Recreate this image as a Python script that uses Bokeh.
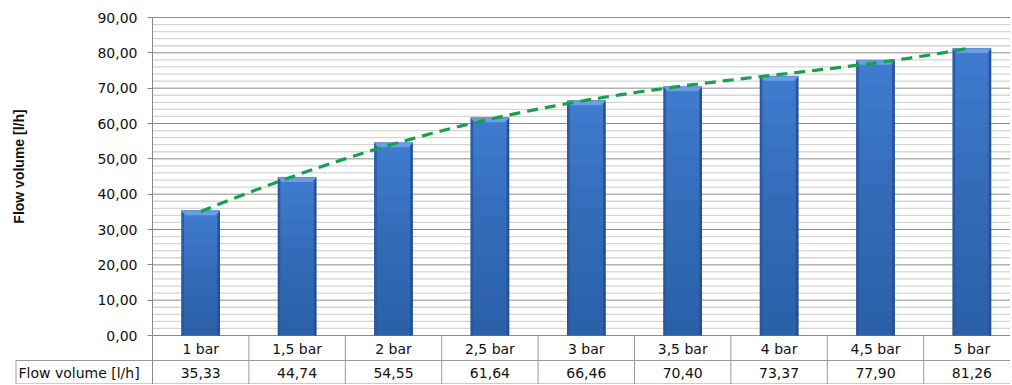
import numpy as np
from bokeh.plotting import figure
from bokeh.models import Range1d, FixedTicker, LinearAxis
from bokeh.core.properties import value
from bokeh.embed import file_html
from bokeh.resources import INLINE

# ---- data ----
categories = ["1 bar", "1,5 bar", "2 bar", "2,5 bar", "3 bar", "3,5 bar", "4 bar", "4,5 bar", "5 bar"]
flow = [35.33, 44.74, 54.55, 61.64, 66.46, 70.40, 73.37, 77.90, 81.26]
series_name = "Flow volume [l/h]"
y_ticks = [0, 10, 20, 30, 40, 50, 60, 70, 80, 90]
y_tick_labels = ["0,00", "10,00", "20,00", "30,00", "40,00", "50,00", "60,00", "70,00", "80,00", "90,00"]
y_minor = [v for v in range(0, 91, 2) if v % 10 != 0]

# ---- layout constants (page pixels) ----
FONT = "DejaVu Sans"
W, H = 1010, 384
PX0 = 152.0          # x pixel of the value axis
CATW = 96.4          # px per category
PY0, PY90 = 335.0, 17.0   # y pixels of 0 and 90
YPX = (PY0 - PY90) / 90.0
ROW1_BOTTOM = 360.0
TABLE_BOTTOM = 383.5
CELL_LEFT = 15.5
TEXT_LEFT = 18.0

def dx(px):
    return (px - PX0) / CATW

def dy(px):
    return (PY0 - px) / YPX

N = len(categories)
x_start, x_end = dx(0), dx(W)
y_start, y_end = dy(H), dy(0)
centers = [i + 0.5 for i in range(N)]

p = figure(width=W, height=H, output_backend="svg", toolbar_location=None,
           x_range=Range1d(x_start, x_end), y_range=Range1d(y_start, y_end),
           x_axis_location=None, y_axis_location=None,
           min_border_left=0, min_border_right=0, min_border_top=0, min_border_bottom=0)
p.outline_line_color = None
p.grid.visible = False

# gridlines (plot area only)
p.segment(x0=[0] * len(y_minor), x1=[x_end] * len(y_minor), y0=y_minor, y1=y_minor,
          line_color="#d5d5d5", line_width=1.3)
p.segment(x0=[0] * len(y_ticks), x1=[x_end] * len(y_ticks), y0=y_ticks, y1=y_ticks,
          line_color="#8c8c8c", line_width=1)

# value axis at x = 0
ax = LinearAxis(fixed_location=0, ticker=FixedTicker(ticks=y_ticks, minor_ticks=[]),
                bounds=(dy(TABLE_BOTTOM), 90))
ax.major_label_overrides = {t: l for t, l in zip(y_ticks, y_tick_labels)}
ax.axis_line_color = "#8a8a8a"
ax.major_tick_line_color = "#8a8a8a"
ax.major_tick_out = 5
ax.major_tick_in = 0
ax.minor_tick_out = 0
ax.minor_tick_in = 0
ax.major_label_text_font = FONT
ax.major_label_text_font_size = "14px"
ax.major_label_text_color = "#111111"
ax.major_label_standoff = 10
p.add_layout(ax, "left")

# ---- bars ----
BW = 0.4
p.vbar(x=centers, top=flow, bottom=0, width=BW, fill_color="#3e7acd", line_color=None)
# vertical shading: darker toward the bottom
for j in range(1, 11):
    p.vbar(x=centers, bottom=0, top=[v * (1 - j / 11.0) for v in flow], width=BW,
           fill_color="#0a1f45", fill_alpha=0.028, line_color=None)
# darker side edges
edge_w = 2.5 / CATW
p.vbar(x=[c - BW / 2 + edge_w / 2 for c in centers], top=flow, bottom=0, width=edge_w,
       fill_color="#2a5599", fill_alpha=0.85, line_color=None)
p.vbar(x=[c + BW / 2 - edge_w / 2 for c in centers], top=flow, bottom=0, width=edge_w,
       fill_color="#254e8f", fill_alpha=0.9, line_color=None)
# chamfered top
bev_h = 4.5 / YPX
bev_in = 4.0 / CATW
bx, by = [], []
for c, v in zip(centers, flow):
    bx.append([c - BW / 2, c + BW / 2, c + BW / 2 - bev_in, c - BW / 2 + bev_in])
    by.append([v, v, v - bev_h, v - bev_h])
p.patches(xs=bx, ys=by, fill_color="#6b9fe2", line_color=None)
p.segment(x0=[c - BW / 2 for c in centers], x1=[c + BW / 2 for c in centers],
          y0=flow, y1=flow, line_color="#5a8fd6", line_width=1)

# ---- polynomial trend line ----
xi = np.arange(1, N + 1)
coef = np.polyfit(xi, flow, 4)
xs = np.linspace(1, N, 200)
p.line(x=xs - 0.5, y=np.polyval(coef, xs), line_color="#18a04e", line_width=3.2,
       line_dash="11 7")

# ---- axis title ----
p.text(x=[dx(18)], y=[dy(166)], text=[series_name], angle=np.pi / 2,
       text_align="center", text_baseline="middle", text_font=value("Liberation Sans"),
       text_font_size="14px", text_font_style="bold", text_color="#111111")

# ---- data table ----
LC = "#9a9a9a"
yb, yr = dy(TABLE_BOTTOM), dy(ROW1_BOTTOM)
seps = list(range(1, N))
p.segment(x0=seps, x1=seps, y0=[0] * len(seps), y1=[yb] * len(seps), line_color=LC, line_width=1)
p.segment(x0=[dx(CELL_LEFT)] * 2, x1=[x_end] * 2, y0=[yr, yb], y1=[yr, yb],
          line_color=LC, line_width=1)
p.segment(x0=[dx(CELL_LEFT)], x1=[dx(CELL_LEFT)], y0=[yr], y1=[yb], line_color=LC, line_width=1)

p.text(x=centers, y=[dy(348)] * N, text=categories, text_align="center", text_baseline="middle",
       text_font=value(FONT), text_font_size="14px", text_color="#111111")
p.text(x=centers, y=[dy(372.5)] * N, text=[f"{v:.2f}".replace(".", ",") for v in flow],
       text_align="center", text_baseline="middle",
       text_font=value(FONT), text_font_size="14px", text_color="#111111")
p.text(x=[dx(TEXT_LEFT)], y=[dy(372.5)], text=[series_name], text_align="left",
       text_baseline="middle", text_font=value(FONT), text_font_size="14px", text_color="#111111")

open("out.html", "w").write(file_html(p, INLINE))
